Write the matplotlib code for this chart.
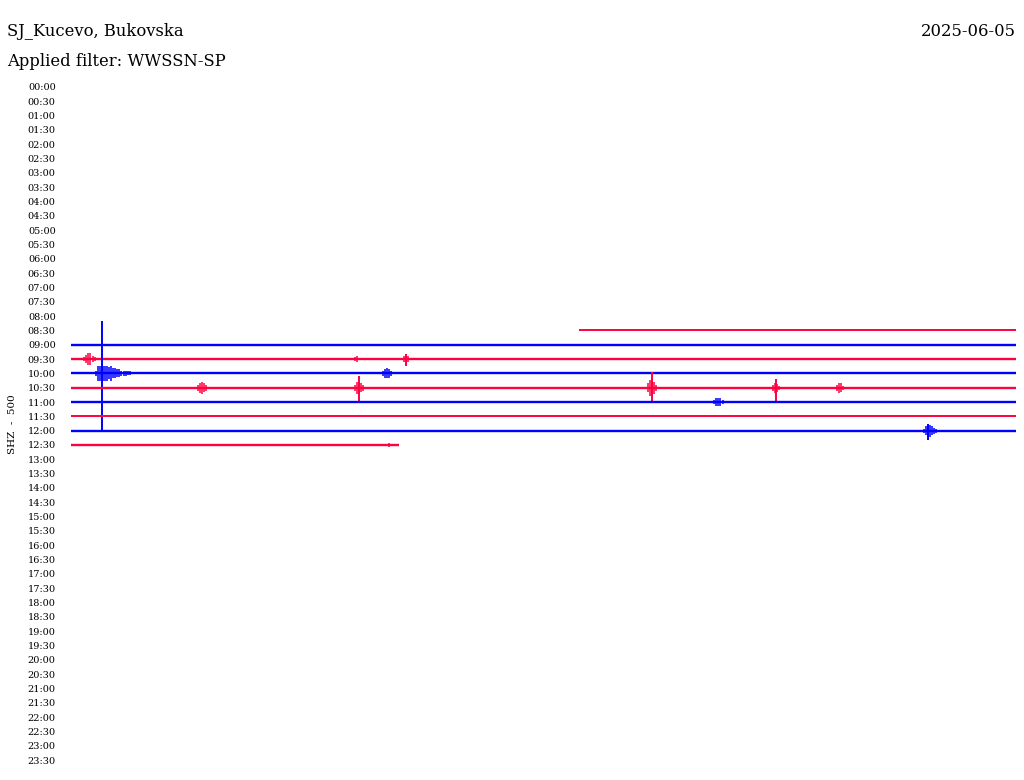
import matplotlib
matplotlib.use('Agg')
import matplotlib.pyplot as plt

# ------------------------------------------------------------------------------
# data read off the helicorder (time in seconds inside each 30 min row,
# amplitudes in units of one row spacing)
ROW_LABELS = ['{:02d}:{:02d}'.format(h, m) for h in range(24) for m in (0, 30)]
ROW_SECONDS = 1800

# (row, start second, end second, noisy)
trace_rows = ['08:30', '09:00', '09:30', '10:00', '10:30', '11:00', '11:30', '12:00', '12:30']
trace_start = [968, 0, 0, 0, 0, 0, 0, 0, 0]
trace_end = [1800, 1800, 1800, 1800, 1800, 1800, 1800, 1800, 625]
trace_noisy = [True, False, False, False, False, False, True, False, False]

# bursts: row, start second, envelope amplitude every 4 s
burst_rows = ['09:30', '09:30', '09:30', '10:00', '10:00', '10:30', '10:30',
              '10:30', '10:30', '10:30', '11:00', '12:00', '12:30']
burst_start = [25, 541, 634, 48, 594, 242, 541, 1099, 1337, 1459, 1225, 1624, 606]
burst_amps = [
	[0.14, 0.28, 0.42, 0.42, 0.2, 0.14],
	[0.14, 0.2],
	[0.2, 0.35, 0.2],
	[0.2, 0.55, 0.55, 0.55, 0.5, 0.55, 0.42, 0.5, 0.35, 0.35, 0.28, 0.28, 0.2, 0.2, 0.2, 0.14, 0.14],
	[0.2, 0.3, 0.35, 0.3, 0.2],
	[0.2, 0.35, 0.42, 0.3, 0.2],
	[0.2, 0.42, 0.42, 0.3, 0.2],
	[0.3, 0.55, 0.55, 0.42, 0.2],
	[0.2, 0.35, 0.28, 0.14],
	[0.2, 0.35, 0.3, 0.14],
	[0.14, 0.28, 0.3, 0.28, 0.14],
	[0.14, 0.3, 0.42, 0.42, 0.3, 0.2, 0.14],
	[0.14],
]
BURST_STEP = 4

# single spikes: row, second, upward, downward
spike_rows = ['10:00', '09:30', '10:30', '10:30', '10:30', '12:00']
spike_sec = [59, 638, 549, 1107, 1343, 1633]
spike_up = [3.63, 0.35, 0.8, 1.12, 0.63, 0.5]
spike_down = [4.12, 0.5, 1.0, 1.0, 1.0, 0.63]

COLORS = ['#ff0040', '#0000ff']
FONT = 'DejaVu Serif'

# ------------------------------------------------------------------------------
figure = plt.figure(figsize=(10.24, 7.8), dpi=100)
axes = figure.add_axes([71 / 1024, 1 - 767.2 / 780, 945 / 1024, 687.4 / 780])

def row_index(label: str) -> int:
	return ROW_LABELS.index(label)

def row_color(label: str) -> str:
	return COLORS[row_index(label) % 2 == 0]

# draw row by row so later rows sit on top of earlier ones
for label in ROW_LABELS:
	y = row_index(label)
	color = row_color(label)
	for r, s0, s1, noisy in zip(trace_rows, trace_start, trace_end, trace_noisy):
		if r == label:
			axes.plot([s0, s1], [y, y], color=color, lw=1.4 if noisy else 1.7,
				solid_capstyle='butt', zorder=2 + y)
	for r, s0, amps in zip(burst_rows, burst_start, burst_amps):
		if r == label:
			xs = [s0 + i * BURST_STEP for i in range(len(amps))]
			axes.vlines(xs, [y - a for a in amps], [y + a for a in amps],
				color=color, lw=1.1, zorder=2 + y)
	for r, s, up, down in zip(spike_rows, spike_sec, spike_up, spike_down):
		if r == label:
			axes.vlines([s], [y - up], [y + down], color=color, lw=1.4, zorder=2 + y)

axes.set_xlim(0, ROW_SECONDS)
axes.set_ylim(len(ROW_LABELS) - 0.5, -0.5)
axes.set_yticks(range(len(ROW_LABELS)))
axes.set_yticklabels(ROW_LABELS, fontsize=7, family=FONT)
axes.tick_params(axis='y', length=0, pad=11)
axes.set_xticks([])
for spine in axes.spines.values():
	spine.set_visible(False)

figure.text(7 / 1024, 1 - 31 / 780, 'SJ_Kucevo, Bukovska', fontsize=11.8, family=FONT, va='center', ha='left')
figure.text(7 / 1024, 1 - 61 / 780, 'Applied filter: WWSSN-SP', fontsize=11.8, family=FONT, va='center', ha='left')
figure.text(1016 / 1024, 1 - 31 / 780, '2025-06-05', fontsize=11.8, family=FONT, va='center', ha='right')
figure.text(13 / 1024, 1 - 424 / 780, 'SHZ  -  500', fontsize=7.5, family=FONT, rotation=90, va='center', ha='center')

figure.savefig('out.png', dpi=100)
